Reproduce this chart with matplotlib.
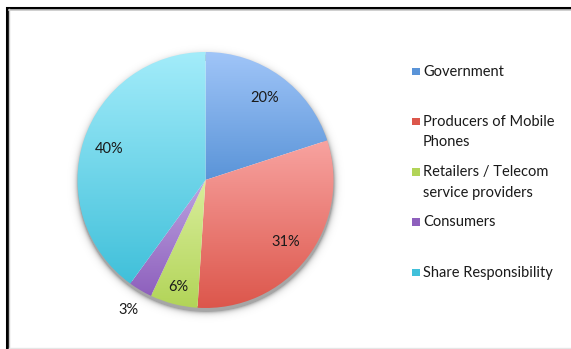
import matplotlib
matplotlib.use("Agg")
import matplotlib.pyplot as plt
import numpy as np
from matplotlib.colors import LinearSegmentedColormap
from matplotlib.patches import Rectangle

plt.rcParams['font.family'] = ['Lato', 'DejaVu Sans']

labels = ['Government', 'Producers of Mobile\nPhones', 'Retailers / Telecom\nservice providers',
          'Consumers', 'Share Responsibility']
shares = [20, 31, 6, 3, 40]
# light (top) and dark (bottom) tone of each slice
tops = ['#a0c5f8', '#f8a3a0', '#d9ee9c', '#bca3e0', '#a3ecfa']
bottoms = ['#5a94d8', '#dc564b', '#b2d458', '#8e60bd', '#40c0da']
pct_dist = [0.79, 0.79, 0.86, 1.18, 0.79]

W, H = 571, 349
fig = plt.figure(figsize=(W / 100, H / 100), dpi=100)
ax = fig.add_axes([0, 0, 1, 1])
ax.set_xlim(0, W)
ax.set_ylim(0, H)
ax.set_aspect('equal')
ax.axis('off')

cx, cy, r = 205.5, H - 180, 128

# soft shadow under the pie
yy, xx = np.mgrid[0:H, 0:W]
d = np.hypot(xx - cx, (H - yy) - (cy - 3)) - r
alpha = np.clip(0.35 * np.exp(-np.clip(d, 0, None) / 2.5), 0, 0.35)
shadow = np.zeros((H, W, 4))
shadow[..., 3] = np.where(d > -5, alpha, 0)
ax.imshow(shadow, extent=(0, W, 0, H), origin='upper', zorder=0)

wedges, _ = ax.pie(shares, startangle=90, counterclock=False, center=(cx, cy), radius=r,
                   wedgeprops=dict(facecolor='none', edgecolor='none'))
ax.set_xlim(0, W)
ax.set_ylim(0, H)

grad = np.linspace(0, 1, 256).reshape(-1, 1)
for w, top, bot, val, dist in zip(wedges, tops, bottoms, shares, pct_dist):
    verts = w.get_path().vertices
    x0, x1 = verts[:, 0].min(), verts[:, 0].max()
    y0, y1 = verts[:, 1].min(), verts[:, 1].max()
    cmap = LinearSegmentedColormap.from_list('g', [top, bot])
    im = ax.imshow(grad, cmap=cmap, extent=(x0, x1, y0, y1), origin='upper',
                   aspect='auto', zorder=1, interpolation='bilinear')
    im.set_clip_path(w)
    mid = np.deg2rad((w.theta1 + w.theta2) / 2)
    ax.text(cx + dist * r * np.cos(mid), cy + dist * r * np.sin(mid), f'{val}%',
            ha='center', va='center', fontsize=10.5, color='#1a1a1a', zorder=3)

# legend
for i, (lab, col) in enumerate(zip(labels, bottoms)):
    ly = H - (71 + 50.3 * i)
    ax.add_patch(Rectangle((412, ly - 4), 7.5, 7.5, facecolor=col, edgecolor='none', zorder=3))
    ax.text(423, ly + 6.5, lab, ha='left', va='top', fontsize=10.5, color='#1a1a1a',
            linespacing=1.6, zorder=3)

# chart frame
ax.plot([7, 7, W + 5], [-5, H - 7.5, H - 7.5], color='black', lw=2.2, zorder=4,
        solid_joinstyle='miter')
ax.plot([9, W + 5], [H - 9.5, H - 9.5], color='#c8c8c8', lw=1.2, zorder=4)
ax.plot([9, 9], [-5, H - 9], color='#c8c8c8', lw=1.0, zorder=4)
ax.plot([9, W + 5], [1, 1], color='#e6e6e6', lw=1.0, zorder=4)

fig.savefig('out.png', dpi=100)
